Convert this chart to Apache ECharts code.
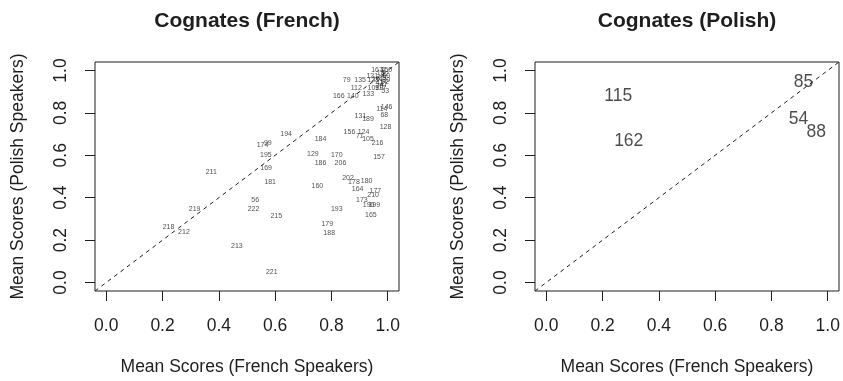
<!DOCTYPE html>
<html>
<head>
<meta charset="utf-8">
<script src="https://cdn.jsdelivr.net/npm/echarts@6/dist/echarts.min.js"></script>
<style>
  html, body { margin: 0; padding: 0; background: #fff; }
  #chart { width: 843px; height: 381px; }
</style>
</head>
<body>
<div id="chart"></div>
<script>
// word ids and mean scores, French cognates
const frenchIds = [221, 213, 218, 212, 219, 211, 56, 222, 215, 181, 169, 195, 174, 99, 194,
  184, 129, 186, 170, 206, 160, 193, 179, 188, 202, 178, 180, 164, 177, 210, 173, 190, 199,
  165, 157, 216, 105, 71, 124, 156, 128, 131, 189, 68, 114, 146, 166, 140, 133, 112, 79, 135,
  53, 109, 167, 121, 123, 4, 12, 18, 25, 30, 41, 47, 60, 73, 92, 101, 117, 150]
const frenchX = [0.588, 0.464, 0.221, 0.276, 0.314, 0.373, 0.529, 0.523, 0.604, 0.582, 0.568, 0.567, 0.555, 0.574, 0.639,
  0.761, 0.734, 0.761, 0.819, 0.832, 0.750, 0.819, 0.785, 0.792, 0.859, 0.880, 0.925, 0.893, 0.956, 0.948, 0.908, 0.932, 0.952,
  0.940, 0.969, 0.964, 0.930, 0.901, 0.914, 0.864, 0.992, 0.903, 0.930, 0.988, 0.979, 0.996, 0.826, 0.876, 0.931, 0.888, 0.854, 0.902,
  0.991, 0.949, 0.962, 0.945, 0.948, 0.985, 0.990, 0.975, 0.980, 0.995, 0.970, 0.985, 0.995, 0.972, 0.990, 0.965, 0.975, 0.995]
const frenchY = [0.050, 0.174, 0.261, 0.237, 0.347, 0.520, 0.391, 0.347, 0.314, 0.474, 0.541, 0.601, 0.647, 0.660, 0.699,
  0.677, 0.606, 0.563, 0.601, 0.563, 0.455, 0.346, 0.278, 0.233, 0.491, 0.474, 0.479, 0.441, 0.432, 0.412, 0.390, 0.364, 0.364,
  0.319, 0.591, 0.659, 0.677, 0.690, 0.711, 0.711, 0.731, 0.785, 0.769, 0.789, 0.816, 0.826, 0.881, 0.881, 0.887, 0.917, 0.956, 0.956,
  0.902, 0.917, 1.000, 0.975, 0.955, 1.000, 0.985, 0.990, 0.965, 0.955, 0.940, 0.930, 0.975, 0.925, 0.945, 0.960, 0.915, 1.000]

// word ids and mean scores, Polish cognates
const polishIds = [115, 162, 85, 54, 88]
const polishX = [0.256, 0.293, 0.914, 0.896, 0.959]
const polishY = [0.881, 0.668, 0.947, 0.770, 0.707]

const tickValues = [0, 0.2, 0.4, 0.6, 0.8, 1.0]
const diagonal = [[-0.04, -0.04], [1.04, 1.04]]

const font = 'Liberation Sans, Arial, Helvetica, sans-serif'
const ink = '#1e1e1e'

function toPoints (ids, xs, ys) {
  return ids.map((id, i) => [xs[i], ys[i], id])
}

function xAxisFor (gridIndex) {
  return {
    gridIndex: gridIndex,
    type: 'value',
    min: -0.04,
    max: 1.04,
    name: 'Mean Scores (French Speakers)',
    nameLocation: 'middle',
    nameGap: 67,
    nameTextStyle: { fontSize: 17.5, color: ink, fontFamily: font },
    axisLine: { show: false, onZero: false },
    axisTick: { show: true, length: 10, customValues: tickValues, lineStyle: { color: ink } },
    axisLabel: {
      customValues: tickValues,
      margin: 26,
      fontSize: 17.5,
      color: ink,
      fontFamily: font,
      formatter: v => v.toFixed(1)
    },
    splitLine: { show: false }
  }
}

function yAxisFor (gridIndex) {
  return {
    gridIndex: gridIndex,
    type: 'value',
    min: -0.04,
    max: 1.04,
    name: 'Mean Scores (Polish Speakers)',
    nameLocation: 'middle',
    nameGap: 68,
    nameTextStyle: { fontSize: 17.5, color: ink, fontFamily: font },
    axisLine: { show: false, onZero: false },
    axisTick: { show: true, length: 10, customValues: tickValues, lineStyle: { color: ink } },
    axisLabel: {
      customValues: tickValues,
      margin: 25,
      rotate: 90,
      fontSize: 17.5,
      color: ink,
      fontFamily: font,
      formatter: v => v.toFixed(1)
    },
    splitLine: { show: false }
  }
}

function labelSeries (index, points, size) {
  return {
    type: 'scatter',
    xAxisIndex: index,
    yAxisIndex: index,
    symbolSize: 0,
    data: points,
    label: {
      show: true,
      position: 'inside',
      formatter: p => p.value[2],
      fontSize: size,
      color: ink,
      fontFamily: font
    },
    labelLayout: { hideOverlap: false },
    silent: true
  }
}

function diagonalSeries (index) {
  return {
    type: 'line',
    xAxisIndex: index,
    yAxisIndex: index,
    data: diagonal,
    symbol: 'none',
    lineStyle: { color: ink, width: 1, type: [4, 4] },
    silent: true
  }
}

const chart = echarts.init(document.getElementById('chart'))

chart.setOption({
  animation: false,
  backgroundColor: '#fff',
  title: [
    {
      text: 'Cognates (French)',
      left: 247,
      top: 11,
      padding: 0,
      textAlign: 'center',
      textStyle: { fontSize: 21, fontWeight: 'bold', color: ink, fontFamily: font }
    },
    {
      text: 'Cognates (Polish)',
      left: 687,
      top: 11,
      padding: 0,
      textAlign: 'center',
      textStyle: { fontSize: 21, fontWeight: 'bold', color: ink, fontFamily: font }
    }
  ],
  grid: [
    { left: 95, top: 62, width: 304, height: 237, show: true, borderColor: ink, borderWidth: 1, containLabel: false },
    { left: 535, top: 62, width: 304, height: 237, show: true, borderColor: ink, borderWidth: 1, containLabel: false }
  ],
  xAxis: [xAxisFor(0), xAxisFor(1)],
  yAxis: [yAxisFor(0), yAxisFor(1)],
  series: [
    diagonalSeries(0),
    labelSeries(0, toPoints(frenchIds, frenchX, frenchY), 7),
    diagonalSeries(1),
    labelSeries(1, toPoints(polishIds, polishX, polishY), 17.5)
  ]
})
</script>
</body>
</html>
